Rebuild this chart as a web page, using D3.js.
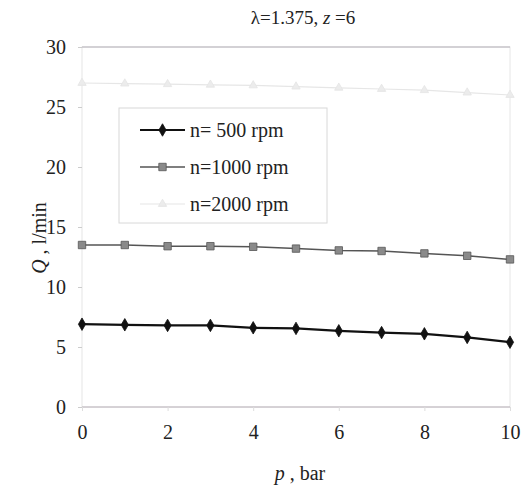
<!DOCTYPE html>
<html>
<head>
<meta charset="utf-8">
<script src="https://cdn.jsdelivr.net/npm/d3@7"></script>
<style>
body { margin: 0; background: #fff; }
text, tspan { font-family: "Liberation Serif" !important; }
</style>
</head>
<body>
<div class="mainviz"></div>
<script>
var pressure = [0, 1, 2, 3, 4, 5, 6, 7, 8, 9, 10];
var q500 = [6.9, 6.85, 6.8, 6.8, 6.6, 6.55, 6.35, 6.2, 6.1, 5.8, 5.4];
var q1000 = [13.5, 13.5, 13.4, 13.4, 13.35, 13.2, 13.05, 13.0, 12.8, 12.6, 12.3];
var q2000 = [27.0, 26.95, 26.9, 26.85, 26.8, 26.7, 26.6, 26.5, 26.4, 26.2, 26.0];
var seriesNames = ["n= 500 rpm", "n=1000 rpm", "n=2000 rpm"];
var xTicks = [0, 2, 4, 6, 8, 10];
var yTicks = [0, 5, 10, 15, 20, 25, 30];

var fontName = "Liberation Serif";

var margin = { top: 47, right: 21, bottom: 86, left: 82 };
var plotW = 531 - margin.left - margin.right,
	plotH = 493 - margin.top - margin.bottom;

var svg = d3.select(".mainviz").append("svg")
	.attr("width", 531)
	.attr("height", 493)
	.attr("font-family", fontName);

var chartGroup = svg.append("g")
	.attr("transform", "translate(" + margin.left + "," + margin.top + ")");

var xScale = d3.scaleLinear().domain([0, 10]).range([0, plotW]);
var yScale = d3.scaleLinear().domain([0, 30]).range([plotH, 0]);

// plot frame
chartGroup.append("rect")
	.attr("width", plotW).attr("height", plotH)
	.attr("fill", "none").attr("stroke", "#e6e6e6").attr("stroke-width", 1);
chartGroup.append("line")
	.attr("x1", 0).attr("x2", plotW).attr("y1", yScale(30)).attr("y2", yScale(30))
	.attr("stroke", "#b4b0b8");
chartGroup.append("line")
	.attr("x1", 0).attr("x2", plotW).attr("y1", yScale(0)).attr("y2", yScale(0))
	.attr("stroke", "#b8b0b8");

var yAxis = d3.axisLeft(yScale).tickValues(yTicks).tickSize(4).tickPadding(12);
var xAxis = d3.axisBottom(xScale).tickValues(xTicks).tickSize(4).tickPadding(14);

var gy = chartGroup.append("g").call(yAxis).attr("font-family", fontName).attr("font-size", 20);
gy.select(".domain").remove();
gy.selectAll("line").attr("stroke", "#ccc");
gy.selectAll("text").attr("fill", "#222").attr("font-family", fontName);

var gx = chartGroup.append("g").attr("transform", "translate(0," + plotH + ")").call(xAxis)
	.attr("font-family", fontName).attr("font-size", 20);
gx.select(".domain").remove();
gx.selectAll("line").attr("stroke", "#ddd");
gx.selectAll("text").attr("fill", "#222").attr("font-family", fontName);

var lineGen = d3.line()
	.x(function(d, i){ return xScale(pressure[i]); })
	.y(function(d){ return yScale(d); });

var seriesStyles = [
	{ data: q500, stroke: "#111", sw: 2.2, fill: "#111", edge: "#111", shape: d3.symbolDiamond, size: 45 },
	{ data: q1000, stroke: "#555", sw: 1.5, fill: "#8a8a8a", edge: "#555", shape: d3.symbolSquare, size: 55 },
	{ data: q2000, stroke: "#e6e6e6", sw: 1.2, fill: "#ececec", edge: "#e4e4e4", shape: d3.symbolTriangle, size: 30 }
];

seriesStyles.forEach(function(s){
	chartGroup.append("path")
		.attr("d", lineGen(s.data))
		.attr("fill", "none")
		.attr("stroke", s.stroke)
		.attr("stroke-width", s.sw);
	chartGroup.selectAll(null)
		.data(s.data)
		.enter().append("path")
		.attr("d", d3.symbol().type(s.shape).size(s.size))
		.attr("transform", function(d, i){ return "translate(" + xScale(pressure[i]) + "," + yScale(d) + ")"; })
		.attr("fill", s.fill)
		.attr("stroke", s.edge)
		.attr("stroke-width", 0.8);
});

// legend
var legend = svg.append("g").attr("transform", "translate(119,108)");
legend.append("rect")
	.attr("width", 208).attr("height", 115)
	.attr("fill", "#fff").attr("stroke", "#d8d8d8");
seriesStyles.forEach(function(s, i){
	var ly = 22 + i * 37;
	legend.append("line")
		.attr("x1", 21).attr("x2", 66).attr("y1", ly).attr("y2", ly)
		.attr("stroke", s.stroke).attr("stroke-width", s.sw);
	legend.append("path")
		.attr("d", d3.symbol().type(s.shape).size(s.size))
		.attr("transform", "translate(43.5," + ly + ")")
		.attr("fill", s.fill).attr("stroke", s.edge).attr("stroke-width", 0.8);
	legend.append("text")
		.attr("x", 71).attr("y", ly + 7)
		.attr("font-family", fontName)
		.attr("font-size", 20)
		.attr("fill", "#222")
		.text(seriesNames[i]);
});

// title and axis labels
var titleText = svg.append("text")
	.attr("x", 303).attr("y", 24)
	.attr("text-anchor", "middle")
	.attr("font-family", fontName)
	.attr("fill", "#222")
	.attr("font-size", 19);
titleText.append("tspan").text("\u03bb=1.375, ");
titleText.append("tspan").attr("font-style", "italic").text("z");
titleText.append("tspan").text(" =6");

var xLabel = svg.append("text")
	.attr("x", 300).attr("y", 480)
	.attr("text-anchor", "middle")
	.attr("font-family", fontName)
	.attr("fill", "#222")
	.attr("font-size", 20);
xLabel.append("tspan").attr("font-style", "italic").text("p");
xLabel.append("tspan").text(" , bar");

var yLabel = svg.append("text")
	.attr("transform", "translate(46,238) rotate(-90)")
	.attr("text-anchor", "middle")
	.attr("font-family", fontName)
	.attr("fill", "#222")
	.attr("font-size", 20);
yLabel.append("tspan").attr("font-style", "italic").text("Q");
yLabel.append("tspan").text(" , l/min");
</script>
</body>
</html>
